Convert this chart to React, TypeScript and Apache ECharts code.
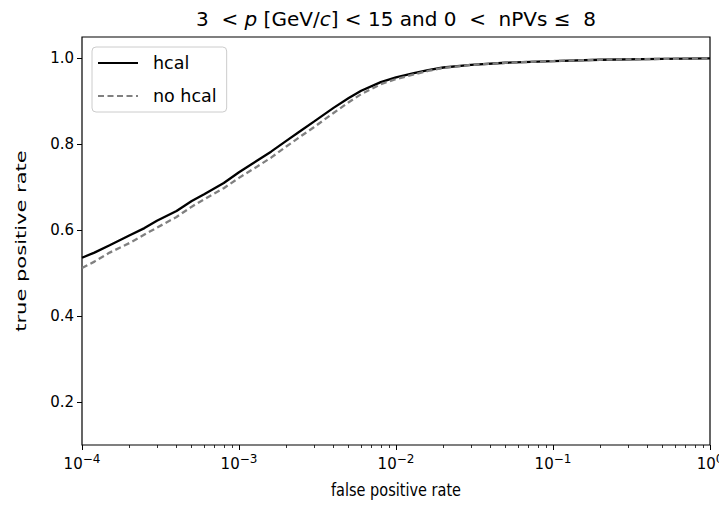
import React, { useEffect, useRef } from "react";
import * as echarts from "echarts";

const fpr = [1e-4, 1.2e-4, 1.5e-4, 2e-4, 2.5e-4, 3e-4, 4e-4, 5e-4, 6e-4, 8e-4, 1e-3, 1.3e-3, 1.6e-3, 2e-3, 2.5e-3, 3e-3, 4e-3, 5e-3, 6e-3, 8e-3, 1e-2, 1.3e-2, 1.6e-2, 2e-2, 3e-2, 5e-2, 0.1, 0.2, 0.5, 1];
const tprHcal = [0.536, 0.548, 0.565, 0.588, 0.605, 0.622, 0.645, 0.668, 0.684, 0.71, 0.735, 0.762, 0.783, 0.808, 0.833, 0.853, 0.885, 0.908, 0.925, 0.945, 0.956, 0.966, 0.973, 0.979, 0.985, 0.99, 0.994, 0.997, 0.999, 1.0];
const tprNoHcal = [0.512, 0.527, 0.548, 0.57, 0.59, 0.606, 0.631, 0.655, 0.672, 0.698, 0.722, 0.748, 0.769, 0.795, 0.82, 0.84, 0.873, 0.898, 0.917, 0.94, 0.952, 0.963, 0.971, 0.978, 0.985, 0.99, 0.994, 0.997, 0.999, 1.0];
const seriesNames = ["hcal", "no hcal"];
const xMajorTicks = [1e-4, 1e-3, 1e-2, 1e-1, 1];
const xMinorTicks = [2e-4, 3e-4, 4e-4, 5e-4, 6e-4, 7e-4, 8e-4, 9e-4, 2e-3, 3e-3, 4e-3, 5e-3, 6e-3, 7e-3, 8e-3, 9e-3, 2e-2, 3e-2, 4e-2, 5e-2, 6e-2, 7e-2, 8e-2, 9e-2, 0.2, 0.3, 0.4, 0.5, 0.6, 0.7, 0.8, 0.9];
const yTicks = [0.2, 0.4, 0.6, 0.8, 1.0];
const titleText = "3  < {i|p} [GeV/{i|c}] < 15 and 0  <  nPVs ≤  8";
const xName = "false positive rate";
const yName = "true positive rate";

const FONT = "DejaVu Sans";

export default function App() {
  const ref = useRef<HTMLDivElement>(null);
  useEffect(() => {
    if (!ref.current) return;
    const chart = echarts.init(ref.current, null, { renderer: "svg" });
    const left = 82, right = 17, top = 37, bottom = 62;
    const plotW = 727 - left - right;
    const plotH = 507 - top - bottom;
    chart.setOption({
      animation: false,
      backgroundColor: "#fff",
      textStyle: { fontFamily: FONT },
      grid: { left, right, top, bottom, show: true, borderColor: "#000", borderWidth: 1.2, backgroundColor: "transparent" },
      graphic: [
        {
          type: "text",
          x: left + plotW / 2,
          y: 19,
          style: {
            text: titleText,
            align: "center",
            verticalAlign: "middle",
            fontFamily: FONT,
            fontSize: 20,
            fill: "#000",
            rich: {
              i: { fontStyle: "italic", fontFamily: FONT, fontSize: 20, fill: "#000" },
            },
          },
        },
        {
          type: "text",
          x: 21,
          y: top + plotH / 2,
          rotation: Math.PI / 2,
          scaleX: 1.45,
          style: {
            text: yName,
            align: "center",
            verticalAlign: "middle",
            fontFamily: FONT,
            fontSize: 14.5,
            fill: "#000",
          },
        },
        {
          type: "text",
          x: left + plotW / 2,
          y: 490,
          scaleY: 1.25,
          style: {
            text: xName,
            align: "center",
            verticalAlign: "middle",
            fontFamily: FONT,
            fontSize: 14.5,
            fill: "#000",
          },
        },
      ],
      legend: {
        data: seriesNames.map((n) => ({ name: n, itemStyle: { opacity: 0 } })),
        orient: "vertical",
        left: 92,
        top: 47,
        padding: [7, 10, 7, 5],
        itemWidth: 40,
        itemHeight: 14,
        itemGap: 15,
        backgroundColor: "#fff",
        borderColor: "#cccccc",
        borderWidth: 1,
        borderRadius: 4,
        textStyle: { fontFamily: FONT, fontSize: 17.5, color: "#000", padding: [0, 0, 0, 10] },
      },
      xAxis: [
        {
          type: "log",
          min: 1e-4,
          max: 1,
          logBase: 10,
          axisLine: { show: false },
          splitLine: { show: false },
          axisTick: { show: true, inside: false, length: 5, customValues: xMajorTicks, lineStyle: { color: "#000", width: 1 } },
          axisLabel: {
            customValues: xMajorTicks,
            margin: 8,
            color: "#000",
            fontFamily: FONT,
            fontSize: 15,
            formatter: (v: number) => {
              const e = Math.round(Math.log10(v));
              return "{b|10}{s|" + (e < 0 ? "\u2212" + -e : String(e)) + "}";
            },
            rich: {
              b: { fontFamily: FONT, fontSize: 15, color: "#000", verticalAlign: "bottom", lineHeight: 18 },
              s: { fontFamily: FONT, fontSize: 12, color: "#000", verticalAlign: "top", lineHeight: 18, padding: [0, 0, 8, 0] },
            },
          },
        },
        {
          type: "log",
          min: 1e-4,
          max: 1,
          logBase: 10,
          position: "bottom",
          axisLine: { show: false },
          splitLine: { show: false },
          axisLabel: { show: false },
          axisTick: { show: true, inside: false, length: 3, customValues: xMinorTicks, lineStyle: { color: "#000", width: 0.8 } },
        },
      ],
      yAxis: {
        type: "value",
        min: 0.1,
        max: 1.05,
        axisLine: { show: false },
        splitLine: { show: false },
        axisTick: { show: true, inside: false, length: 5, customValues: yTicks, lineStyle: { color: "#000", width: 1 } },
        axisLabel: {
          customValues: yTicks,
          margin: 8,
          color: "#000",
          fontFamily: FONT,
          fontSize: 15,
          formatter: (v: number) => v.toFixed(1),
        },
      },
      series: [
        {
          name: seriesNames[0],
          type: "line",
          xAxisIndex: 0,
          data: fpr.map((x, i) => [x, tprHcal[i]]),
          symbol: "none",
          lineStyle: { color: "#000", width: 2.3 },
          itemStyle: { color: "#000" },
          z: 3,
        },
        {
          name: seriesNames[1],
          type: "line",
          xAxisIndex: 0,
          data: fpr.map((x, i) => [x, tprNoHcal[i]]),
          symbol: "none",
          lineStyle: { color: "#808080", width: 2.3, type: [6, 3.5] },
          itemStyle: { color: "#808080" },
          z: 4,
        },
      ],
    });
    return () => chart.dispose();
  }, []);
  return <div ref={ref} style={{ width: 727, height: 507, marginLeft: -8, marginTop: -8 }} />;
}
